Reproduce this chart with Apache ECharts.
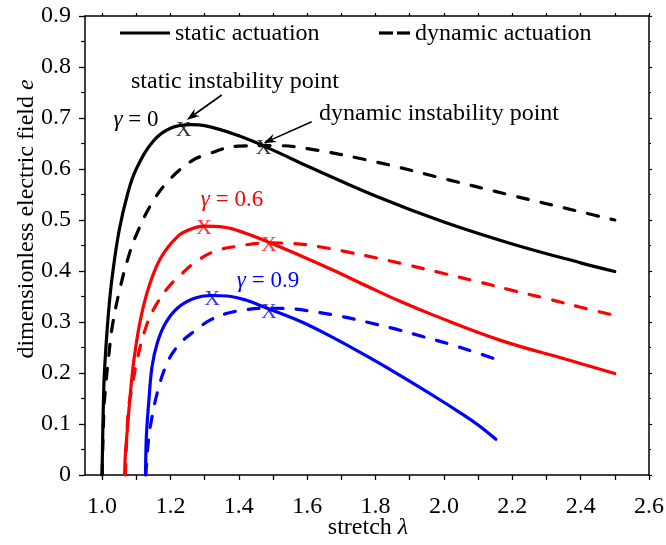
<!DOCTYPE html>
<html><head><meta charset="utf-8">
<script src="https://cdn.jsdelivr.net/npm/echarts@6/dist/echarts.min.js"></script>
<style>html,body{margin:0;padding:0;background:#fff}#c{width:666px;height:545px}</style>
</head><body><div id="c"></div>
<script>
// ---- data ----
const xTicks = [1.0,1.1,1.2,1.3,1.4,1.5,1.6,1.7,1.8,1.9,2.0,2.1,2.2,2.3,2.4,2.5,2.6];
const xLabels = [1.0,1.2,1.4,1.6,1.8,2.0,2.2,2.4,2.6];

const lamBlack     = [1.0, 1.005, 1.01, 1.02, 1.03, 1.05, 1.075, 1.1, 1.15, 1.2, 1.26, 1.3, 1.4, 1.5, 1.6, 1.8, 2.0, 2.2, 2.4, 2.5];
const staticBlack  = [0, 0.171, 0.238, 0.328, 0.391, 0.480, 0.552, 0.600, 0.655, 0.680, 0.687, 0.685, 0.665, 0.637, 0.606, 0.547, 0.496, 0.453, 0.416, 0.399];
const dynamicBlack = [0, 0.122, 0.171, 0.237, 0.292, 0.359, 0.423, 0.471, 0.538, 0.581, 0.615, 0.627, 0.645, 0.646, 0.640, 0.614, 0.581, 0.548, 0.516, 0.500];

const lamRedS   = [1.066, 1.068, 1.073, 1.081, 1.093, 1.112, 1.137, 1.171, 1.22, 1.259, 1.298, 1.356, 1.42, 1.488, 1.581, 1.678, 1.776, 1.87, 1.971, 2.166, 2.362, 2.5];
const redStatic = [0, 0.04, 0.082, 0.147, 0.225, 0.304, 0.369, 0.425, 0.467, 0.482, 0.488, 0.486, 0.474, 0.456, 0.430, 0.401, 0.370, 0.341, 0.313, 0.264, 0.226, 0.199];

const lamRedD    = [1.068, 1.072, 1.078, 1.09, 1.102, 1.132, 1.161, 1.195, 1.229, 1.268, 1.327, 1.40, 1.488, 1.56, 1.64, 1.72, 1.80, 1.90, 2.0, 2.1, 2.2, 2.3, 2.4, 2.5];
const redDynamic = [0, 0.07, 0.134, 0.18, 0.225, 0.297, 0.337, 0.369, 0.392, 0.415, 0.438, 0.449, 0.455, 0.454, 0.447, 0.437, 0.426, 0.411, 0.395, 0.379, 0.362, 0.346, 0.329, 0.313];

const lamBlueS   = [1.127, 1.128, 1.130, 1.137, 1.146, 1.161, 1.185, 1.22, 1.268, 1.317, 1.366, 1.42, 1.483, 1.581, 1.68, 1.78, 1.88, 1.98, 2.05, 2.10, 2.152];
const blueStatic = [0, 0.04, 0.082, 0.147, 0.212, 0.258, 0.297, 0.327, 0.346, 0.352, 0.351, 0.343, 0.327, 0.301, 0.268, 0.231, 0.192, 0.151, 0.121, 0.098, 0.070];

const lamBlueD    = [1.128, 1.132, 1.136, 1.141, 1.161, 1.19, 1.224, 1.268, 1.317, 1.366, 1.42, 1.488, 1.55, 1.62, 1.70, 1.78, 1.86, 1.94, 2.02, 2.09, 2.152];
const blueDynamic = [0, 0.04, 0.07, 0.095, 0.160, 0.219, 0.255, 0.281, 0.304, 0.317, 0.324, 0.327, 0.326, 0.320, 0.311, 0.299, 0.286, 0.271, 0.256, 0.241, 0.227];

// instability points (static, dynamic)
const marksBlack = [[1.239, 0.676], [1.473, 0.641]];
const marksRed   = [[1.298, 0.484], [1.488, 0.451]];
const marksBlue  = [[1.322, 0.344], [1.488, 0.320]];

// ---- chart ----
const FONT = "'Liberation Serif','Times New Roman',serif";
const zip = (xs, ys) => xs.map((x, i) => [x, ys[i]]);
const chart = echarts.init(document.getElementById('c'), null, {renderer: 'canvas'});

function lineSeries(data, color, dashed) {
  return {
    type: 'line', data: data, symbol: 'none', showSymbol: false, smooth: 0.4,
    clip: true,
    lineStyle: dashed ? {color: color, width: 3.2, type: [11, 13], cap: 'round'} : {color: color, width: 3.2, cap: 'round'},
    itemStyle: {color: color}, z: 3
  };
}
function markSeries(data, color) {
  return {
    type: 'scatter', data: data, symbolSize: 0.1,
    itemStyle: {color: 'rgba(0,0,0,0)'},
    label: {show: true, formatter: 'X', position: 'inside', fontFamily: FONT, fontSize: 22, color: color, textBorderWidth: 0},
    z: 5
  };
}
function arrow(x1, y1, x2, y2, color) {
  const dx = x2 - x1, dy = y2 - y1, L = Math.hypot(dx, dy);
  const ux = dx / L, uy = dy / L, nx = -uy, ny = ux;
  const hl = 13, hw = 4.5, notch = 9;
  const bx = x2 - hl * ux, by = y2 - hl * uy;
  const mx = x2 - notch * ux, my = y2 - notch * uy;
  return [
    {type: 'line', shape: {x1: x1, y1: y1, x2: mx, y2: my}, style: {stroke: color, lineWidth: 1.6}, z: 10},
    {type: 'polygon', shape: {points: [[x2, y2], [bx + hw * nx, by + hw * ny], [mx, my], [bx - hw * nx, by - hw * ny]]},
     style: {fill: color}, z: 10}
  ];
}
const axisLineStyle = {color: '#000', width: 1.5};
const TF = '24px ' + FONT;

const option = {
  backgroundColor: '#fff',
  animation: false,
  grid: {left: 85, right: 17, top: 16, bottom: 70, containLabel: false, outerBoundsMode: 'none'},
  xAxis: [
    {type: 'value', min: 0.95, max: 2.6, position: 'bottom',
     axisLine: {show: true, onZero: false, lineStyle: axisLineStyle},
     axisTick: {show: true, customValues: xTicks, length: 5, lineStyle: {color: '#000', width: 1.3}},
     axisLabel: {customValues: xLabels, formatter: v => v.toFixed(1), fontFamily: FONT, fontSize: 24, color: '#000', margin: 20},
     splitLine: {show: false}},
    {type: 'value', min: 0.95, max: 2.6, position: 'top',
     axisLine: {show: true, onZero: false, lineStyle: axisLineStyle},
     axisTick: {show: true, customValues: xTicks, length: 3, lineStyle: {color: '#000', width: 1.2}},
     axisLabel: {show: false}, splitLine: {show: false}}
  ],
  yAxis: [
    {type: 'value', min: 0, max: 0.9, interval: 0.1, position: 'left',
     axisLine: {show: true, onZero: false, lineStyle: axisLineStyle},
     axisTick: {show: true, length: 6, lineStyle: {color: '#000', width: 1.3}},
     minorTick: {show: true, splitNumber: 2, length: 4, lineStyle: {color: '#000', width: 1.2}},
     axisLabel: {formatter: v => (v === 0 ? '0' : v.toFixed(1)), fontFamily: FONT, fontSize: 24, color: '#000', margin: 14},
     splitLine: {show: false}, minorSplitLine: {show: false}},
    {type: 'value', min: 0, max: 0.9, interval: 0.1, position: 'right',
     axisLine: {show: true, onZero: false, lineStyle: axisLineStyle},
     axisTick: {show: true, length: 3, lineStyle: {color: '#000', width: 1.2}},
     minorTick: {show: true, splitNumber: 2, length: 2, lineStyle: {color: '#000', width: 1.2}},
     axisLabel: {show: false}, splitLine: {show: false}}
  ],
  series: [
    lineSeries(zip(lamBlack, staticBlack), '#000000', false),
    lineSeries(zip(lamBlack, dynamicBlack), '#000000', true),
    lineSeries(zip(lamRedS, redStatic), '#ff0000', false),
    lineSeries(zip(lamRedD, redDynamic), '#ff0000', true),
    lineSeries(zip(lamBlueS, blueStatic), '#0000ff', false),
    lineSeries(zip(lamBlueD, blueDynamic), '#0000ff', true),
    markSeries(marksBlack, '#000000'),
    markSeries(marksRed, '#ff0000'),
    markSeries(marksBlue, '#0000ff')
  ],
  graphic: [
    // legend
    {type: 'line', shape: {x1: 120, y1: 33, x2: 170, y2: 33}, style: {stroke: '#000', lineWidth: 3.2}},
    {type: 'text', x: 175, y: 34, style: {text: 'static actuation', font: TF, fill: '#000', textAlign: 'left', textVerticalAlign: 'middle'}},
    {type: 'line', shape: {x1: 379, y1: 33, x2: 393, y2: 33}, style: {stroke: '#000', lineWidth: 3.2}},
    {type: 'line', shape: {x1: 397, y1: 33, x2: 410, y2: 33}, style: {stroke: '#000', lineWidth: 3.2}},
    {type: 'text', x: 415, y: 34, style: {text: 'dynamic actuation', font: TF, fill: '#000', textAlign: 'left', textVerticalAlign: 'middle'}},
    // annotations
    {type: 'text', x: 235, y: 82, style: {text: 'static instability point', font: TF, fill: '#000', textAlign: 'center', textVerticalAlign: 'middle'}},
    {type: 'text', x: 439, y: 114, style: {text: 'dynamic instability point', font: TF, fill: '#000', textAlign: 'center', textVerticalAlign: 'middle'}},
    ...arrow(221.7, 95, 186.7, 120, '#000'),
    ...arrow(311.7, 121.7, 263.3, 143.3, '#000'),
    // gamma labels
    {type: 'text', x: 136, y: 120, style: {text: '{i|γ} = 0', font: '23px ' + FONT, fill: '#000', textAlign: 'center', textVerticalAlign: 'middle',
      rich: {i: {fontStyle: 'italic', fontFamily: FONT, fontSize: 23, fill: '#000'}}}},
    {type: 'text', x: 232, y: 200, style: {text: '{i|γ} = 0.6', font: '23px ' + FONT, fill: '#ff0000', textAlign: 'center', textVerticalAlign: 'middle',
      rich: {i: {fontStyle: 'italic', fontFamily: FONT, fontSize: 23, fill: '#ff0000'}}}},
    {type: 'text', x: 268, y: 281, style: {text: '{i|γ} = 0.9', font: '23px ' + FONT, fill: '#0000ff', textAlign: 'center', textVerticalAlign: 'middle',
      rich: {i: {fontStyle: 'italic', fontFamily: FONT, fontSize: 23, fill: '#0000ff'}}}},
    // axis names
    {type: 'text', x: 368, y: 528, style: {text: 'stretch {i|λ}', font: TF, fill: '#000', textAlign: 'center', textVerticalAlign: 'middle',
      rich: {i: {fontStyle: 'italic', fontFamily: FONT, fontSize: 24, fill: '#000'}}}},
    {type: 'text', x: 27, y: 219, rotation: Math.PI / 2, style: {text: 'dimensionless electric field {i|e}', font: TF, fill: '#000', textAlign: 'center', textVerticalAlign: 'middle',
      rich: {i: {fontStyle: 'italic', fontFamily: FONT, fontSize: 24, fill: '#000'}}}}
  ]
};
chart.setOption(option);
</script>
</body></html>
